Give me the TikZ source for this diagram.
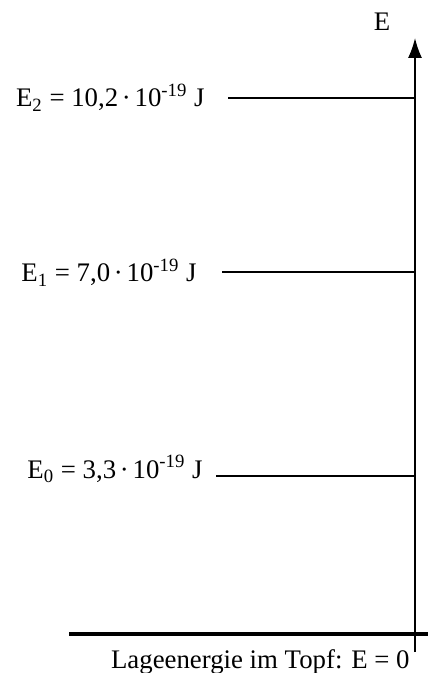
\documentclass[tikz,border=0pt]{standalone}
\usepackage{fontspec}
\setmainfont{Liberation Serif}
\usetikzlibrary{arrows.meta,positioning}
\newcommand{\tdot}{\hspace{0.14em}·\hspace{0.14em}}

\begin{document}
\begin{tikzpicture}[
    x=0.5pt, y=-0.5pt,
    every node/.style={font=\fontsize{13.4}{16}\selectfont, inner sep=0pt},
    levellabel/.style={anchor=base east},
    levelline/.style={line width=0.6pt},
    axisline/.style={line width=0.8pt, -{Latex[length=10pt,width=7pt]}},
    groundline/.style={line width=1.6pt}
]
    \useasboundingbox (0,0) rectangle (433,673);

    % axis
    \coordinate (axbot) at (415,652);
    \coordinate (axtop) at (415,38);
    \node (elabel) at (382,22) {E};

    % levels
    \node (e2) [levellabel] at (205,107) {E\textsubscript{2} = 10,2\tdot 10\textsuperscript{-19} J};
    \node (e1) [levellabel] at (197,282) {E\textsubscript{1} = 7,0\tdot 10\textsuperscript{-19} J};
    \node (e0) [levellabel] at (203,478) {E\textsubscript{0} = 3,3\tdot 10\textsuperscript{-19} J};
    \coordinate (e2l) at (228,98);  \coordinate (e2r) at (415,98);
    \coordinate (e1l) at (222,272); \coordinate (e1r) at (415,272);
    \coordinate (e0l) at (216,476); \coordinate (e0r) at (415,476);

    % ground
    \coordinate (gl) at (69,634);
    \coordinate (gr) at (428,634);
    \node (ground) [anchor=base east] at (410,668) {Lageenergie im Topf: E = 0};

    \draw[levelline] (e2l) -- (e2r);
    \draw[levelline] (e1l) -- (e1r);
    \draw[levelline] (e0l) -- (e0r);
    \draw[groundline] (gl) -- (gr);
    \draw[axisline] (axbot) -- (axtop);

\end{tikzpicture}
\end{document}
